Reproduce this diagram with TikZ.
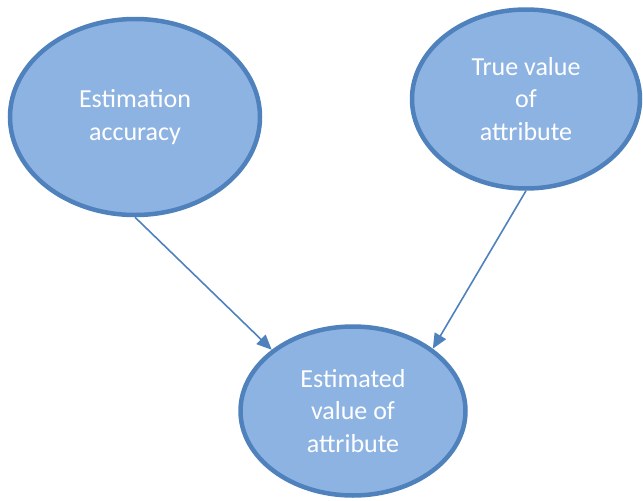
\documentclass[tikz,border=0pt]{standalone}
\usepackage{fontspec}
\setmainfont{Carlito}
\usetikzlibrary{shapes.geometric,arrows.meta}
\definecolor{bubblefill}{HTML}{8DB3E2}
\definecolor{bubbleline}{HTML}{4F81BD}
\begin{document}
\begin{tikzpicture}[x=1pt,y=-1pt,
  bubble/.style={ellipse, draw=bubbleline, fill=bubblefill, line width=4.5pt,
    inner sep=0pt, text=white, align=center,
    font=\fontsize{26}{32.5}\selectfont},
  link/.style={draw=bubbleline, line width=1.6pt,
    -{Triangle[length=15pt,width=13pt]}}]
\useasboundingbox (0,0) rectangle (643,501);
\node[bubble, minimum width=250pt, minimum height=196pt] (acc) at (135,117)
  {Estimation\\accuracy};
\node[bubble, minimum width=228pt, minimum height=179pt] (true) at (526,99)
  {True value\\of\\attribute};
\node[bubble, minimum width=225pt, minimum height=169pt] (est) at (353,411)
  {Estimated\\value of\\attribute};
\draw[link] (acc.south) -- (est.143);
\draw[link] (true.south) -- (est.38);
\end{tikzpicture}
\end{document}
